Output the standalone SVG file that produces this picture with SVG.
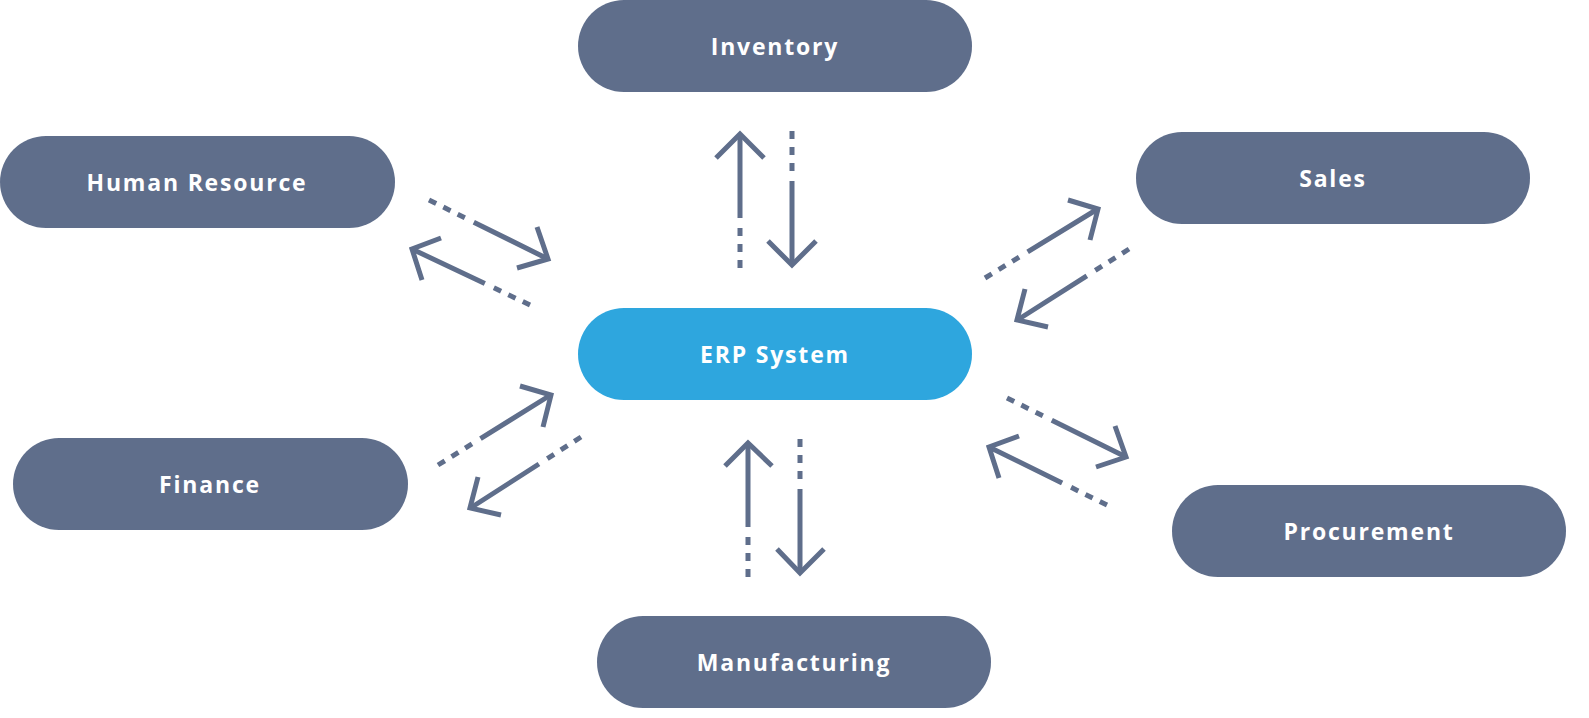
<svg xmlns="http://www.w3.org/2000/svg" width="1589" height="718" viewBox="0 0 1589 718">
<style>
.n{fill:#5f6e8b}.e{fill:#2ea6de}
.t{fill:#fff;font-family:"Open Sans","Noto Sans",sans-serif;font-weight:700;font-size:23px;letter-spacing:1.8px;text-anchor:middle;dominant-baseline:central}
.l{stroke:#5f6e8b;stroke-width:5;fill:none;stroke-dasharray:8 8 8 8 8 10 600}
.h{stroke:#5f6e8b;stroke-width:5;fill:none}
</style>
<rect width="1589" height="718" fill="#fff"/>
<g id="inventory"><rect class="n" x="578" y="0" width="394" height="92" rx="46"/><text class="t" x="775" y="46">Inventory</text></g>
<g id="hr"><rect class="n" x="0" y="136" width="395" height="92" rx="46"/><text class="t" x="197" y="182">Human Resource</text></g>
<g id="sales"><rect class="n" x="1136" y="132" width="394" height="92" rx="46"/><text class="t" x="1333" y="178">Sales</text></g>
<g id="erp"><rect class="e" x="578" y="308" width="394" height="92" rx="46"/><text class="t" x="775" y="354">ERP System</text></g>
<g id="finance"><rect class="n" x="13" y="438" width="395" height="92" rx="46"/><text class="t" x="210" y="484">Finance</text></g>
<g id="procurement"><rect class="n" x="1172" y="485" width="394" height="92" rx="46"/><text class="t" x="1369" y="531">Procurement</text></g>
<g id="manufacturing"><rect class="n" x="597" y="616" width="394" height="92" rx="46"/><text class="t" x="794" y="662">Manufacturing</text></g>
<g id="connectors">
<line class="l" x1="740" y1="268" x2="740" y2="136"/><polyline class="h" points="716,158 740,134 764,158"/>
<line class="l" x1="792" y1="131" x2="792" y2="263"/><polyline class="h" points="768,241 792,265 816,241"/>
<line class="l" x1="429" y1="200" x2="546" y2="258"/><polyline class="h" points="537,227 548,259 517,268"/>
<line class="l" x1="530" y1="305" x2="414" y2="250"/><polyline class="h" points="441,238 412,249 422,280"/>
<line class="l" x1="985" y1="278" x2="1096" y2="210"/><polyline class="h" points="1068,200 1098,209 1090,240"/>
<line class="l" x1="1129" y1="249" x2="1019" y2="319"/><polyline class="h" points="1025,289 1017,320 1048,327"/>
<line class="l" x1="438" y1="465" x2="549" y2="396"/><polyline class="h" points="520,386 551,395 543,427"/>
<line class="l" x1="581" y1="437" x2="472" y2="507"/><polyline class="h" points="478,477 470,508 501,515"/>
<line class="l" x1="1007" y1="398" x2="1124" y2="456"/><polyline class="h" points="1115,426 1126,457 1096,467"/>
<line class="l" x1="1107" y1="505" x2="991" y2="448"/><polyline class="h" points="1019,436 989,447 999,478"/>
<line class="l" x1="748" y1="577" x2="748" y2="445"/><polyline class="h" points="725,466 748,443 772,466"/>
<line class="l" x1="800" y1="439" x2="800" y2="571"/><polyline class="h" points="777,549 800,573 824,549"/>
</g>
</svg>
